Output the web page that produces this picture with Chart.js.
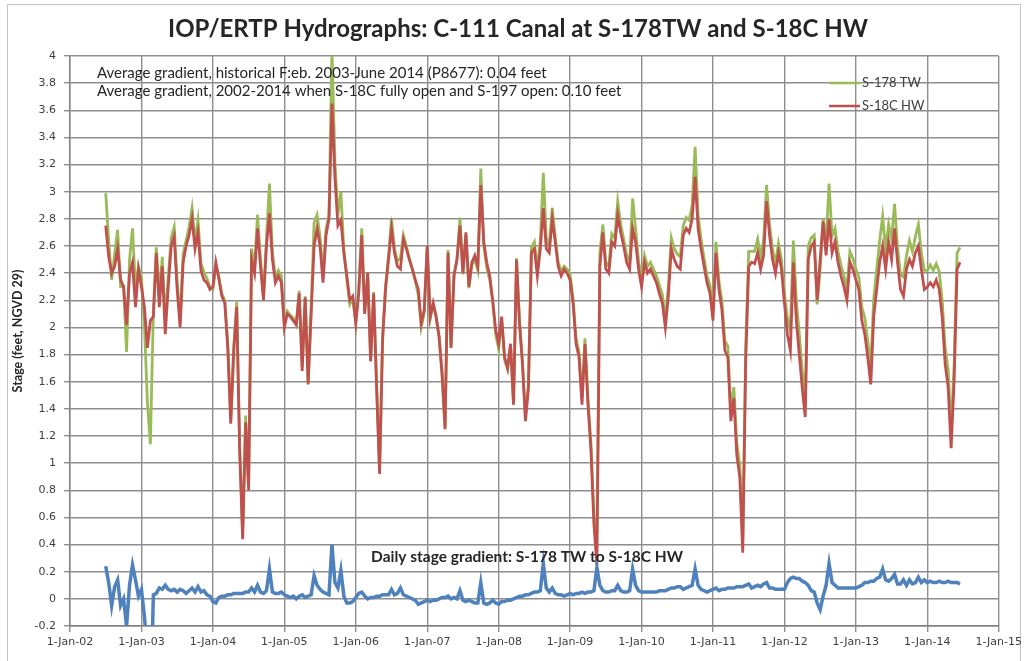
<!DOCTYPE html>
<html>
<head>
<meta charset="utf-8">
<script src="https://cdn.jsdelivr.net/npm/chart.js@4.4.1/dist/chart.umd.min.js"></script>
<style>
html,body{margin:0;padding:0;background:#fff;}
</style>
</head>
<body>
<canvas id="grafHidro" width="1026" height="661"></canvas>
<script>
const chartTitle = "IOP/ERTP Hydrographs: C-111 Canal at S-178TW and S-18C HW";
const yTitle = "Stage (feet, NGVD 29)";
const notes = [
"Average gradient, historical F:eb. 2003-June 2014 (P8677): 0.04 feet",
"Average gradient, 2002-2014 when S-18C fully open and S-197 open: 0.10 feet"
];
const gradientLabel = "Daily stage gradient: S-178 TW to S-18C HW";
const seriesNames = ["S-178 TW","S-18C HW","Daily stage gradient"];
const xTickLabels = ["1-Jan-02","1-Jan-03","1-Jan-04","1-Jan-05","1-Jan-06","1-Jan-07","1-Jan-08","1-Jan-09","1-Jan-10","1-Jan-11","1-Jan-12","1-Jan-13","1-Jan-14","1-Jan-15"];

// semi-monthly samples, first one 1 Jul 2002
const firstSample = 2002.5;
const samplesPerYear = 24;

// S-178 TW (feet)
const s178tw = [
2.99,2.64,2.35,2.54,2.72,2.30,2.30,1.82,2.50,2.73,2.29,2.45,2.37,2.02,1.45,1.14,2.11,2.59,2.23,2.52,2.05,2.37,2.66,2.74,
2.33,2.07,2.54,2.64,2.74,2.88,2.63,2.79,2.47,2.41,2.36,2.30,2.28,2.45,2.37,2.25,2.20,1.88,1.32,1.86,2.19,1.13,0.48,1.35,
0.85,2.58,2.45,2.83,2.50,2.24,2.66,3.06,2.55,2.37,2.42,2.38,2.03,2.12,2.09,2.07,2.02,2.27,1.71,2.23,1.60,2.13,2.77,2.83,
2.67,2.38,2.72,2.83,4.05,3.22,2.83,3.00,2.57,2.35,2.17,2.21,2.04,2.29,2.73,2.12,2.40,1.76,2.26,1.58,0.94,1.93,2.31,2.53,
2.80,2.58,2.49,2.51,2.68,2.60,2.51,2.43,2.34,2.24,2.00,2.11,2.59,2.06,2.17,2.07,1.93,1.66,1.26,2.57,1.85,2.39,2.50,2.81,
2.39,2.68,2.29,2.46,2.50,2.42,3.17,2.60,2.44,2.35,2.19,1.95,1.84,2.06,1.76,1.69,1.87,1.43,2.51,2.05,1.75,1.34,1.58,2.59,
2.63,2.43,2.64,3.14,2.66,2.60,2.88,2.67,2.48,2.41,2.45,2.43,2.39,2.21,1.92,1.82,1.48,1.92,1.48,1.15,0.61,0.48,2.55,2.76,
2.48,2.45,2.69,2.66,2.93,2.76,2.65,2.53,2.49,2.95,2.73,2.49,2.35,2.53,2.45,2.48,2.43,2.38,2.31,2.24,2.06,2.30,2.66,2.58,
2.54,2.52,2.75,2.81,2.79,2.90,3.33,2.83,2.65,2.51,2.38,2.31,2.12,2.63,2.34,2.20,1.90,1.86,1.39,1.56,1.15,0.99,0.43,1.86,
2.56,2.56,2.56,2.65,2.52,2.64,3.05,2.76,2.58,2.47,2.62,2.50,2.25,2.07,1.98,2.64,2.20,1.95,1.68,1.46,2.60,2.66,2.68,2.17,
2.42,2.80,2.63,3.06,2.67,2.73,2.56,2.46,2.38,2.28,2.56,2.51,2.43,2.37,2.15,2.07,1.90,1.71,2.21,2.43,2.64,2.82,2.57,2.76,
2.65,2.91,2.59,2.39,2.37,2.53,2.64,2.56,2.67,2.76,2.55,2.42,2.42,2.46,2.42,2.47,2.41,2.20,1.85,1.69,1.23,1.72,2.55,2.59
];

// S-18C HW (feet)
const s18chw = [
2.75,2.52,2.40,2.45,2.58,2.35,2.30,2.02,2.40,2.48,2.15,2.43,2.30,2.15,1.85,2.05,2.08,2.55,2.15,2.45,1.95,2.30,2.60,2.67,
2.28,2.00,2.48,2.60,2.68,2.80,2.58,2.70,2.42,2.35,2.33,2.28,2.30,2.48,2.36,2.23,2.18,1.85,1.29,1.82,2.15,1.09,0.44,1.30,
0.80,2.50,2.40,2.73,2.45,2.20,2.60,2.84,2.50,2.33,2.38,2.33,2.00,2.10,2.08,2.05,2.02,2.25,1.68,2.22,1.58,2.10,2.60,2.73,
2.60,2.33,2.68,2.80,3.65,3.10,2.75,2.79,2.55,2.38,2.20,2.23,2.03,2.25,2.68,2.10,2.40,1.75,2.25,1.56,0.92,1.90,2.28,2.50,
2.73,2.55,2.45,2.43,2.65,2.58,2.50,2.43,2.35,2.28,2.03,2.13,2.60,2.08,2.18,2.08,1.93,1.65,1.25,2.55,1.85,2.38,2.50,2.75,
2.40,2.70,2.30,2.48,2.53,2.45,3.05,2.63,2.48,2.38,2.20,1.98,1.88,2.08,1.78,1.70,1.88,1.43,2.50,2.03,1.73,1.31,1.55,2.55,
2.58,2.38,2.58,2.88,2.58,2.55,2.80,2.63,2.45,2.38,2.43,2.40,2.35,2.18,1.88,1.78,1.43,1.88,1.43,1.10,0.55,0.25,2.45,2.70,
2.43,2.40,2.63,2.60,2.83,2.70,2.60,2.48,2.43,2.73,2.63,2.43,2.30,2.48,2.40,2.43,2.38,2.33,2.25,2.18,2.00,2.23,2.58,2.50,
2.45,2.43,2.68,2.73,2.70,2.80,3.11,2.73,2.58,2.45,2.33,2.25,2.05,2.55,2.28,2.13,1.83,1.78,1.31,1.48,1.06,0.90,0.34,1.76,
2.45,2.48,2.47,2.55,2.43,2.53,2.93,2.68,2.50,2.40,2.55,2.43,2.18,1.95,1.83,2.48,2.05,1.80,1.55,1.34,2.50,2.60,2.63,2.20,
2.50,2.78,2.53,2.80,2.55,2.63,2.48,2.38,2.30,2.20,2.48,2.43,2.35,2.28,2.05,1.95,1.78,1.58,2.08,2.28,2.48,2.60,2.43,2.63,
2.50,2.73,2.48,2.28,2.23,2.43,2.50,2.45,2.55,2.60,2.43,2.28,2.30,2.33,2.30,2.35,2.28,2.08,1.73,1.56,1.11,1.60,2.43,2.48
];

// gradient TW - HW (feet)
const gradiente = [
0.24,0.12,-0.05,0.09,0.14,-0.05,0.00,-0.20,0.10,0.25,0.14,0.02,0.07,-0.13,-0.40,-0.91,0.03,0.04,0.08,0.07,0.10,0.07,0.06,0.07,
0.05,0.07,0.06,0.04,0.06,0.08,0.05,0.09,0.05,0.06,0.03,0.02,-0.02,-0.03,0.01,0.02,0.02,0.03,0.03,0.04,0.04,0.04,0.04,0.05,
0.05,0.08,0.05,0.10,0.05,0.04,0.06,0.22,0.05,0.04,0.04,0.05,0.03,0.02,0.01,0.02,0.00,0.02,0.03,0.01,0.02,0.03,0.17,0.10,
0.07,0.05,0.04,0.03,0.40,0.12,0.08,0.21,0.02,-0.03,-0.03,-0.02,0.01,0.04,0.05,0.02,0.00,0.01,0.01,0.02,0.02,0.03,0.03,0.03,
0.07,0.03,0.04,0.08,0.03,0.02,0.01,0.00,-0.01,-0.04,-0.03,-0.02,-0.01,-0.02,-0.01,-0.01,0.00,0.01,0.01,0.02,0.00,0.01,0.00,0.06,
-0.01,-0.02,-0.01,-0.02,-0.03,-0.03,0.12,-0.03,-0.04,-0.03,-0.01,-0.03,-0.04,-0.02,-0.02,-0.01,-0.01,0.00,0.01,0.02,0.02,0.03,0.03,0.04,
0.05,0.05,0.06,0.26,0.08,0.05,0.08,0.04,0.03,0.03,0.02,0.03,0.04,0.03,0.04,0.04,0.05,0.04,0.05,0.05,0.06,0.23,0.10,0.06,
0.05,0.05,0.06,0.06,0.10,0.06,0.05,0.05,0.06,0.22,0.10,0.06,0.05,0.05,0.05,0.05,0.05,0.05,0.06,0.06,0.06,0.07,0.08,0.08,
0.09,0.09,0.07,0.08,0.09,0.10,0.22,0.10,0.07,0.06,0.05,0.06,0.07,0.08,0.06,0.07,0.07,0.08,0.08,0.08,0.09,0.09,0.09,0.10,
0.11,0.08,0.09,0.10,0.09,0.11,0.12,0.08,0.08,0.07,0.07,0.07,0.07,0.12,0.15,0.16,0.15,0.15,0.13,0.12,0.10,0.06,0.05,-0.03,
-0.08,0.02,0.10,0.26,0.12,0.10,0.08,0.08,0.08,0.08,0.08,0.08,0.08,0.09,0.10,0.12,0.12,0.13,0.13,0.15,0.16,0.22,0.14,0.13,
0.15,0.18,0.11,0.11,0.14,0.10,0.14,0.11,0.12,0.16,0.12,0.14,0.12,0.13,0.12,0.12,0.13,0.12,0.12,0.13,0.12,0.12,0.12,0.11
];

const verde = "#9BBB59";
const rojo = "#C0504D";
const azul = "#4F81BD";
const gris = "#8e8e8e";
const textoColor = "#404040";

function puntos(vals){
return vals.map((v,i)=>({x:firstSample+i/samplesPerYear,y:v}));
}

const textos = {
id:"textos",
beforeDraw(chart){
const ctx=chart.ctx;
ctx.save();
ctx.fillStyle="#fff";
ctx.fillRect(0,0,chart.width,chart.height);
ctx.strokeStyle="#c4c4c4";
ctx.lineWidth=1;
ctx.strokeRect(7.5,4.5,1013,700);
ctx.restore();
},
afterDraw(chart){
const ctx=chart.ctx;
const a=chart.chartArea;
ctx.save();
ctx.textBaseline="middle";

ctx.fillStyle="#262626";
ctx.font="bold 24px Lato";
ctx.textAlign="center";
ctx.fillText(chartTitle,518,29);

ctx.save();
ctx.translate(18,331);
ctx.rotate(-Math.PI/2);
ctx.font="bold 12.5px Lato";
ctx.fillStyle="#262626";
ctx.fillText(yTitle,0,0);
ctx.restore();

ctx.textAlign="left";
ctx.font="15px Lato";
ctx.fillStyle="#262626";
ctx.fillText(notes[0],a.left+27,73);
ctx.fillText(notes[1],a.left+27,91);

ctx.font="bold 15.5px Lato";
ctx.textAlign="center";
ctx.fillText(gradientLabel,527,557);

// legend
const items=[[seriesNames[0],verde,83],[seriesNames[1],rojo,106]];
ctx.textAlign="left";
ctx.font="13px Lato";
items.forEach(([txt,col,y])=>{
ctx.strokeStyle=col;
ctx.lineWidth=2.5;
ctx.beginPath();
ctx.moveTo(829,y);
ctx.lineTo(860,y);
ctx.stroke();
ctx.fillStyle=textoColor;
ctx.fillText(txt,862,y);
});
ctx.restore();
}
};

const ctx=document.getElementById("grafHidro");

new Chart(ctx,{
type:"line",
data:{
datasets:[
{label:seriesNames[0],data:puntos(s178tw),borderColor:verde,borderWidth:2.8,pointRadius:0,tension:0,order:3},
{label:seriesNames[1],data:puntos(s18chw),borderColor:rojo,borderWidth:2.8,pointRadius:0,tension:0,order:2},
{label:seriesNames[2],data:puntos(gradiente),borderColor:azul,borderWidth:3.5,pointRadius:0,tension:0,order:1}
]
},
options:{
responsive:false,
animation:false,
layout:{padding:{top:56,right:27,left:0,bottom:0}},
plugins:{legend:{display:false},tooltip:{enabled:false}},
scales:{
x:{
type:"linear",min:2002,max:2015,
afterFit:s=>{s.height=35;},
ticks:{stepSize:1,autoSkip:false,maxRotation:0,color:textoColor,padding:4,
font:{family:"DejaVu Sans",size:11},
callback:v=>xTickLabels[Math.round(v-2002)]},
grid:{color:gris,lineWidth:1.4,tickLength:6},
border:{color:"#808080",width:1.4}
},
y:{
min:-0.2,max:4,
afterFit:s=>{s.width=70;},
ticks:{stepSize:0.2,autoSkip:false,color:textoColor,padding:8,
font:{family:"DejaVu Sans",size:11},
callback:v=>String(Math.round(v*10)/10)},
grid:{color:gris,lineWidth:1.4,tickLength:6},
border:{color:"#808080",width:1.4}
}
}
},
plugins:[textos]
});
</script>
</body>
</html>
